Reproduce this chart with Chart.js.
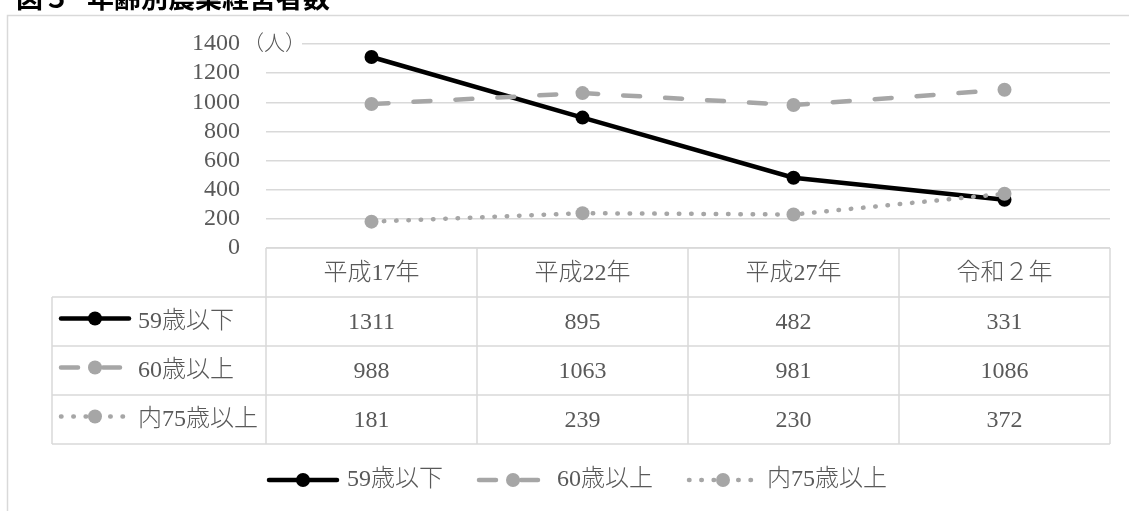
<!DOCTYPE html>
<html lang="ja">
<head>
<meta charset="utf-8">
<title>年齢別農業経営者数</title>
<script src="https://cdn.jsdelivr.net/npm/chart.js@4"></script>
<style>
  html, body { margin: 0; padding: 0; background: #fff; }
  #wrap { width: 1129px; height: 511px; }
</style>
</head>
<body>
<div id="wrap"><canvas id="farmChart" width="1129" height="511"></canvas></div>
<script>
// 年齢別農業経営者数（人）
const categories = ['平成17年', '平成22年', '平成27年', '令和２年'];
const seriesNames = ['59歳以下', '60歳以上', '内75歳以上'];
const under59 = [1311, 895, 482, 331];
const over60 = [988, 1063, 981, 1086];
const over75 = [181, 239, 230, 372];
const yTicks = [0, 200, 400, 600, 800, 1000, 1200, 1400];
const unitLabel = '（人）';
const chartTitle = '図５ 年齢別農業経営者数';

const GRID = '#d9d9d9';
const TEXT = '#595959';
const NUM_FONT = "24px 'Liberation Serif'";
const LABEL_FONT = "300 24px 'Liberation Serif', 'Noto Sans CJK JP'";

// line + marker sample, used in the table row headers and the legend
function drawSymbol(ctx, ds, cx, cy, halfW) {
  ctx.save();
  ctx.strokeStyle = ds.borderColor;
  ctx.lineWidth = ds.borderWidth;
  ctx.lineCap = ds.borderCapStyle;
  ctx.setLineDash(ds.borderDash || []);
  ctx.beginPath();
  ctx.moveTo(cx - halfW, cy);
  ctx.lineTo(cx + halfW, cy);
  ctx.stroke();
  ctx.setLineDash([]);
  ctx.fillStyle = ds.pointBackgroundColor;
  ctx.beginPath();
  ctx.arc(cx, cy, ds.pointRadius, 0, Math.PI * 2);
  ctx.fill();
  ctx.restore();
}

const frame = {
  id: 'frame',
  beforeDraw(chart) {
    const { ctx } = chart;
    ctx.save();
    ctx.fillStyle = '#fff';
    ctx.fillRect(0, 0, chart.width, chart.height);
    ctx.strokeStyle = GRID;
    ctx.lineWidth = 1.5;
    ctx.strokeRect(7.5, 15.5, 1300, 700);
    // title above the frame, mostly cut off by the top edge
    const [fig, name] = chartTitle.split(' ');
    ctx.fillStyle = '#000';
    ctx.font = "bold 27px 'Noto Sans CJK JP'";
    ctx.textAlign = 'left';
    ctx.textBaseline = 'ideographic';
    ctx.fillText(fig, 16, 11);
    ctx.fillText(name, 87, 11);
    ctx.restore();
  },
  afterDraw(chart) {
    const { ctx, chartArea } = chart;
    ctx.save();
    ctx.font = "300 21px 'Noto Sans CJK JP'";
    const x0 = 243;
    const w = ctx.measureText(unitLabel).width;
    ctx.fillStyle = '#fff';
    ctx.fillRect(chartArea.left, chartArea.top - 3, x0 + w - chartArea.left - 4, 6);
    ctx.fillStyle = TEXT;
    ctx.textAlign = 'left';
    ctx.textBaseline = 'middle';
    ctx.fillText(unitLabel, x0, chartArea.top - 2);
    ctx.restore();
  }
};

const dataTable = {
  id: 'dataTable',
  afterDraw(chart) {
    const { ctx, chartArea } = chart;
    const x = chart.scales.x;
    const colW = (chartArea.right - chartArea.left) / categories.length;
    const top = chartArea.bottom;
    const rowH = 49;
    const headLeft = 52;
    const datasets = chart.data.datasets;
    const bottom = top + rowH * (datasets.length + 1);

    ctx.save();
    ctx.strokeStyle = GRID;
    ctx.lineWidth = 1.5;
    ctx.beginPath();
    ctx.moveTo(chartArea.left, top);
    ctx.lineTo(chartArea.right, top);
    for (let r = 1; r <= datasets.length + 1; r++) {
      ctx.moveTo(headLeft, top + r * rowH);
      ctx.lineTo(chartArea.right, top + r * rowH);
    }
    ctx.moveTo(headLeft, top + rowH);
    ctx.lineTo(headLeft, bottom);
    for (let c = 0; c <= categories.length; c++) {
      const xx = chartArea.left + c * colW;
      ctx.moveTo(xx, top);
      ctx.lineTo(xx, bottom);
    }
    ctx.stroke();

    ctx.fillStyle = TEXT;
    ctx.textAlign = 'center';
    ctx.textBaseline = 'middle';
    ctx.font = LABEL_FONT;
    categories.forEach((c, i) => ctx.fillText(c, x.getPixelForValue(i), top + rowH / 2 + 1));

    datasets.forEach((ds, r) => {
      const cy = top + rowH * (r + 1) + rowH / 2;
      ctx.font = NUM_FONT;
      ctx.textAlign = 'center';
      ds.data.forEach((v, i) => ctx.fillText(String(v), x.getPixelForValue(i), cy + 1));
      drawSymbol(ctx, ds, 95, cy - 3, 34);
      ctx.font = LABEL_FONT;
      ctx.textAlign = 'left';
      ctx.fillText(ds.label, 138, cy);
    });

    // legend below the table
    const ly = 480;
    let lx = 267;
    ctx.font = LABEL_FONT;
    datasets.forEach((ds) => {
      drawSymbol(ctx, ds, lx + 36, ly, 34);
      ctx.fillText(ds.label, lx + 80, ly);
      lx += 80 + ctx.measureText(ds.label).width + 34;
    });
    ctx.restore();
  }
};

new Chart(document.getElementById('farmChart'), {
  type: 'line',
  data: {
    labels: categories,
    datasets: [
      {
        label: seriesNames[0],
        data: under59,
        borderColor: '#000',
        backgroundColor: '#000',
        pointBackgroundColor: '#000',
        pointBorderColor: '#000',
        borderWidth: 4.5,
        borderCapStyle: 'round',
        pointRadius: 7,
        pointBorderWidth: 0,
        order: 3
      },
      {
        label: seriesNames[1],
        data: over60,
        borderColor: '#a6a6a6',
        backgroundColor: '#a6a6a6',
        pointBackgroundColor: '#a6a6a6',
        pointBorderColor: '#a6a6a6',
        borderWidth: 4.5,
        borderCapStyle: 'round',
        borderDash: [17, 25],
        pointRadius: 7,
        pointBorderWidth: 0,
        order: 2
      },
      {
        label: seriesNames[2],
        data: over75,
        borderColor: '#a6a6a6',
        backgroundColor: '#a6a6a6',
        pointBackgroundColor: '#a6a6a6',
        pointBorderColor: '#a6a6a6',
        borderWidth: 4.5,
        borderCapStyle: 'round',
        borderDash: [0.5, 11.8],
        pointRadius: 7,
        pointBorderWidth: 0,
        order: 1
      }
    ]
  },
  options: {
    responsive: false,
    devicePixelRatio: 1,
    animation: false,
    layout: { padding: { top: 44, right: 19, bottom: 263, left: 0 } },
    plugins: {
      legend: { display: false },
      tooltip: { enabled: false },
      title: { display: false }
    },
    scales: {
      x: { display: false, offset: true },
      y: {
        min: 0,
        max: 1400,
        afterBuildTicks: (scale) => { scale.ticks = yTicks.map((v) => ({ value: v })); },
        afterFit: (scale) => { scale.width = 266; },
        border: { display: false },
        grid: { color: GRID, lineWidth: 1.5, drawTicks: false },
        ticks: {
          autoSkip: false,
          padding: 26,
          color: TEXT,
          font: { family: "'Liberation Serif'", size: 24 },
          callback: (v) => String(v)
        }
      }
    }
  },
  plugins: [frame, dataTable]
});
</script>
</body>
</html>
